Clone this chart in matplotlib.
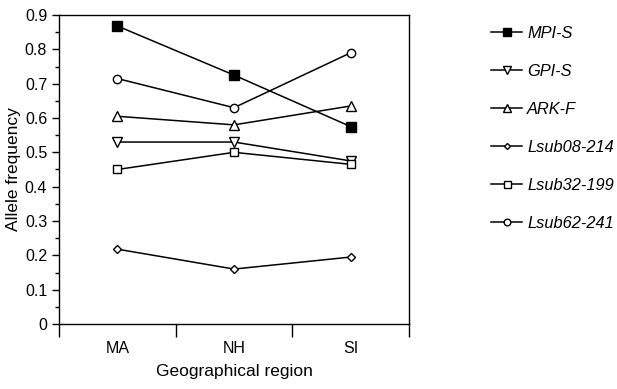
import numpy as np
import matplotlib.pyplot as plt
from matplotlib.ticker import MultipleLocator

plt.rcParams['font.family'] = ['Liberation Sans', 'DejaVu Sans']

regions = ['MA', 'NH', 'SI']
mpi_s = [0.868, 0.725, 0.575]
gpi_s = [0.53, 0.53, 0.475]
ark_f = [0.605, 0.58, 0.635]
lsub08_214 = [0.218, 0.16, 0.195]
lsub32_199 = [0.45, 0.50, 0.465]
lsub62_241 = [0.715, 0.63, 0.79]

series = [
    ('MPI-S', mpi_s, dict(marker='s', mfc='black', ms=6.5)),
    ('GPI-S', gpi_s, dict(marker='v', mfc='white', ms=6.5)),
    ('ARK-F', ark_f, dict(marker='^', mfc='white', ms=6.5)),
    ('Lsub08-214', lsub08_214, dict(marker='D', mfc='white', ms=3.8)),
    ('Lsub32-199', lsub32_199, dict(marker='s', mfc='white', ms=6.3)),
    ('Lsub62-241', lsub62_241, dict(marker='o', mfc='white', ms=6)),
]

fig = plt.figure(figsize=(6.17, 3.89), dpi=100)
ax = fig.add_axes([59 / 617, 1 - 324 / 389, 350 / 617, 309 / 389])

x = np.arange(len(regions)) + 0.5
for name, vals, style in series:
    ax.plot(x, vals, color='black', lw=1.1, mec='black', mew=1.0,
            label=name, **style)

ax.set_xlim(0, 3)
ax.set_ylim(0, 0.9)
ax.set_xticks([0, 1, 2, 3])
ax.set_xticklabels([])
ax.set_xticks(x, minor=True)
ax.set_xticklabels(regions, minor=True)
ax.tick_params(axis='x', which='major', length=9, width=1, direction='out')
ax.tick_params(axis='x', which='minor', length=0, pad=12, labelsize=11.5)

ax.set_yticks(np.arange(0, 0.91, 0.1))
ax.set_yticklabels(['0'] + ['%.1f' % v for v in np.arange(0.1, 0.91, 0.1)])
ax.yaxis.set_minor_locator(MultipleLocator(0.05))
ax.tick_params(axis='y', which='major', length=5, width=1, labelsize=11.5)
ax.tick_params(axis='y', which='minor', length=3, width=1)
for s in ax.spines.values():
    s.set_linewidth(1)

ax.set_xlabel('Geographical region', fontsize=12.5, labelpad=6)
ax.set_ylabel('Allele frequency', fontsize=12.5)
ax.yaxis.set_label_coords(-0.108, 0.5)

leg = fig.legend(loc='upper left', bbox_to_anchor=(491 / 617, 1 - 26 / 389),
                 frameon=False, borderpad=0, borderaxespad=0,
                 handlelength=1.9, handletextpad=0.3, labelspacing=1.4,
                 prop={'style': 'italic', 'size': 11.8}, markerscale=0.8)

fig.savefig('out.png', dpi=100)
